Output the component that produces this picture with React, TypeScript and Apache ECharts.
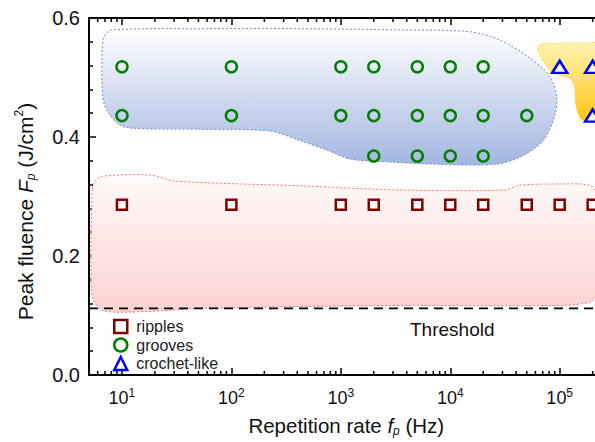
import React, { useEffect, useRef } from 'react';
import * as echarts from 'echarts';

// ---- data ----
const rippleX = [10, 100, 1000, 2000, 5000, 10000, 20000, 50000, 100000, 200000];
const rippleY = [0.286, 0.286, 0.286, 0.286, 0.286, 0.286, 0.286, 0.286, 0.286, 0.286];

const grooveX = [10, 100, 1000, 2000, 5000, 10000, 20000, 10, 100, 1000, 2000, 5000, 10000, 20000, 50000, 2000, 5000, 10000, 20000];
const grooveY = [0.518, 0.518, 0.518, 0.518, 0.518, 0.518, 0.518, 0.436, 0.436, 0.436, 0.436, 0.436, 0.436, 0.436, 0.436, 0.368, 0.368, 0.368, 0.368];

const crochetX = [100000, 200000, 200000];
const crochetY = [0.518, 0.518, 0.436];

const thresholdX = [5, 400000];
const thresholdValue = 0.112;

const xMin = 5;
const xMax = 400000;
const yTicks = [0, 0.2, 0.4, 0.6];
const xMinorTicks = [6, 7, 8, 9, 20, 30, 40, 50, 60, 70, 80, 90, 200, 300, 400, 500, 600, 700, 800, 900,
  2000, 3000, 4000, 5000, 6000, 7000, 8000, 9000, 20000, 30000, 40000, 50000, 60000, 70000, 80000, 90000,
  200000, 300000];

// grooves region outline (Hz, J/cm2)
const blueRegionX = [6.9, 8.16, 51.8, 423, 3459, 15070, 28300, 53200, 80900, 93800, 89900, 69900, 43100, 25500, 8020, 2810, 1211, 795, 423, 225, 51.8, 11.9, 9.06, 7.05, 6.61, 6.61];
const blueRegionY = [0.570, 0.580, 0.582, 0.582, 0.580, 0.577, 0.563, 0.533, 0.502, 0.468, 0.435, 0.393, 0.366, 0.354, 0.354, 0.358, 0.363, 0.376, 0.394, 0.410, 0.413, 0.415, 0.423, 0.450, 0.480, 0.547];

// ripples region outline
const redRegionX = [5.36, 5.7, 6.61, 18.1, 30.6, 423, 3459, 31400, 43100, 99800, 187500, 217000, 222000, 195500, 99800, 3459, 51.8, 18.1, 7.05, 5.7, 5.25];
const redRegionY = [0.313, 0.326, 0.334, 0.336, 0.326, 0.318, 0.311, 0.311, 0.319, 0.321, 0.319, 0.304, 0.145, 0.124, 0.117, 0.117, 0.112, 0.107, 0.107, 0.120, 0.145];

// crochet-like region outline
const yellowRegionX = [62900, 72800, 187500, 353000, 353000, 187500, 155000, 139700, 136800, 123100, 86100, 74300, 64100];
const yellowRegionY = [0.553, 0.557, 0.558, 0.558, 0.426, 0.426, 0.431, 0.455, 0.483, 0.498, 0.508, 0.521, 0.543];

const FONT = '"Liberation Sans", Arial, Helvetica, sans-serif';

function regionSeries(xs: number[], ys: number[], c0: string, c1: string, stroke: string) {
  return {
    type: 'custom',
    silent: true,
    z: 1,
    data: [[xs[0], ys[0]]],
    renderItem: (_params: any, api: any) => {
      const pts = xs.map((x, i) => api.coord([x, ys[i]]));
      return {
        type: 'polygon',
        shape: { points: pts, smooth: 0.3 },
        style: {
          fill: new echarts.graphic.LinearGradient(0, 0, 0, 1, [
            { offset: 0, color: c0 },
            { offset: 1, color: c1 },
          ]),
          stroke,
          lineWidth: 1,
          lineDash: [2, 2],
        },
      };
    },
  };
}

export default function App() {
  const ref = useRef<HTMLDivElement>(null);
  useEffect(() => {
    document.body.style.margin = '0';
    const chart = echarts.init(ref.current!, undefined, { renderer: 'svg' });
    const isPow10 = (v: number) => {
      const l = Math.log10(v);
      return Math.abs(l - Math.round(l)) < 1e-6;
    };
    const xAxisCommon = {
      type: 'log',
      logBase: 10,
      min: xMin,
      max: xMax,
      axisLine: { show: true, lineStyle: { color: '#000', width: 2 } },
      axisTick: { show: true, inside: true, length: 7, lineStyle: { color: '#000', width: 1.5 } },
      splitLine: { show: false },
      minorTick: { show: false },
    };
    chart.setOption({
      animation: false,
      backgroundColor: '#fff',
      textStyle: { fontFamily: FONT },
      grid: { left: 89, top: 18, width: 536.6, height: 359, containLabel: false },
      xAxis: [
        {
          ...xAxisCommon,
          position: 'bottom',
          name: '{n|Repetition rate }{i|f}{s|p}{n| (Hz)}',
          nameLocation: 'middle',
          nameGap: 38,
          nameTextStyle: {
            padding: [0, 22, 0, 0],
            rich: {
              n: { fontSize: 20.5, fontFamily: FONT, color: '#111', lineHeight: 24 },
              i: { fontSize: 20.5, fontFamily: FONT, color: '#111', fontStyle: 'italic', lineHeight: 24 },
              s: { fontSize: 12, fontFamily: FONT, color: '#111', fontStyle: 'italic', lineHeight: 12, verticalAlign: 'bottom' },
            },
          },
          axisLabel: {
            margin: 12,
            formatter: (v: number) => (isPow10(v) ? `{b|10}{s|${Math.round(Math.log10(v))}}` : ''),
            rich: {
              b: { fontSize: 18, fontFamily: FONT, color: '#111', lineHeight: 22 },
              s: { fontSize: 12, fontFamily: FONT, color: '#111', lineHeight: 12, verticalAlign: 'top' },
            },
          },
        },
        {
          ...xAxisCommon,
          position: 'top',
          axisLabel: { show: false },
        },
      ],
      yAxis: {
        type: 'value',
        min: yTicks[0],
        max: yTicks[yTicks.length - 1],
        interval: 0.2,
        name: '{n|Peak fluence }{i|F}{s|p}{n| (J/cm}{u|2}{n|)}',
        nameLocation: 'middle',
        nameGap: 52,
        nameTextStyle: {
          padding: [0, 30, 0, 0],
          rich: {
            n: { fontSize: 21, fontFamily: FONT, color: '#111', lineHeight: 24 },
            i: { fontSize: 21, fontFamily: FONT, color: '#111', fontStyle: 'italic', lineHeight: 24 },
            s: { fontSize: 12, fontFamily: FONT, color: '#111', fontStyle: 'italic', lineHeight: 12, verticalAlign: 'bottom' },
            u: { fontSize: 12, fontFamily: FONT, color: '#111', lineHeight: 12, verticalAlign: 'top' },
          },
        },
        axisLine: { show: true, lineStyle: { color: '#000', width: 2 } },
        axisTick: { show: true, inside: true, length: 7, lineStyle: { color: '#000', width: 1.5 } },
        minorTick: { show: true, splitNumber: 5, length: 4, lineStyle: { color: '#000', width: 1.5 } },
        splitLine: { show: false },
        minorSplitLine: { show: false },
        axisLabel: {
          fontSize: 20,
          color: '#111',
          fontFamily: FONT,
          margin: 9,
          formatter: (v: number) => v.toFixed(1),
        },
      },
      legend: {
        orient: 'vertical',
        left: 113,
        top: 318.5,
        padding: 0,
        itemWidth: 13,
        itemHeight: 13,
        itemGap: 2.5,
        textStyle: { fontSize: 16, fontFamily: FONT, color: '#222', padding: [0, 0, 0, 4] },
        data: [
          { name: 'ripples', itemStyle: { borderWidth: 2.5 } },
          { name: 'grooves', itemStyle: { borderWidth: 2.5 } },
          { name: 'crochet-like', itemStyle: { borderWidth: 2.5 } },
        ],
      },
      graphic: [
        {
          type: 'text',
          left: 410,
          top: 320,
          style: { text: 'Threshold', font: `19px ${FONT}`, fill: '#111' },
        },
      ],
      series: [
        regionSeries(redRegionX, redRegionY, '#fffafa', '#ffd2d2', '#ff7070'),
        regionSeries(blueRegionX, blueRegionY, '#ffffff', '#a3b6e0', '#6f8cc8'),
        regionSeries(yellowRegionX, yellowRegionY, '#fff6b8', '#ffc20a', '#ffd23c'),
        {
          type: 'line',
          z: 2,
          silent: true,
          symbol: 'none',
          data: thresholdX.map((x) => [x, thresholdValue]),
          lineStyle: { color: '#000', width: 1.8, type: [9, 6] },
        },
        {
          type: 'custom',
          z: 2,
          silent: true,
          data: xMinorTicks.map((x) => [x, 0]),
          renderItem: (_p: any, api: any) => {
            const b = api.coord([api.value(0), 0]);
            const t = api.coord([api.value(0), 0.6]);
            return {
              type: 'group',
              children: [
                { type: 'line', shape: { x1: b[0], y1: b[1], x2: b[0], y2: b[1] - 4 }, style: { stroke: '#000', lineWidth: 1.5 } },
                { type: 'line', shape: { x1: t[0], y1: t[1], x2: t[0], y2: t[1] + 4 }, style: { stroke: '#000', lineWidth: 1.5 } },
              ],
            };
          },
        },
        {
          name: 'ripples',
          type: 'scatter',
          z: 3,
          symbol: 'rect',
          symbolSize: 10,
          data: rippleX.map((x, i) => [x, rippleY[i]]),
          itemStyle: { color: '#ffffff', borderColor: '#800000', borderWidth: 2.5, opacity: 1 },
        },
        {
          name: 'grooves',
          type: 'scatter',
          z: 3,
          symbol: 'circle',
          symbolSize: 11,
          data: grooveX.map((x, i) => [x, grooveY[i]]),
          itemStyle: { color: 'rgba(0,0,0,0)', borderColor: '#008000', borderWidth: 2.5, opacity: 1 },
        },
        {
          name: 'crochet-like',
          type: 'scatter',
          z: 3,
          symbol: 'triangle',
          symbolSize: [15, 12],
          data: crochetX.map((x, i) => [x, crochetY[i]]),
          itemStyle: { color: '#ffffff', borderColor: '#0000ff', borderWidth: 2.5, opacity: 1 },
        },
      ],
    } as any);
    return () => chart.dispose();
  }, []);
  return (
    <div style={{ position: 'absolute', left: 0, top: 0, width: 595, height: 442, overflow: 'hidden' }}>
      <div ref={ref} style={{ position: 'absolute', left: 0, top: 0, width: 660, height: 442 }} />
    </div>
  );
}
